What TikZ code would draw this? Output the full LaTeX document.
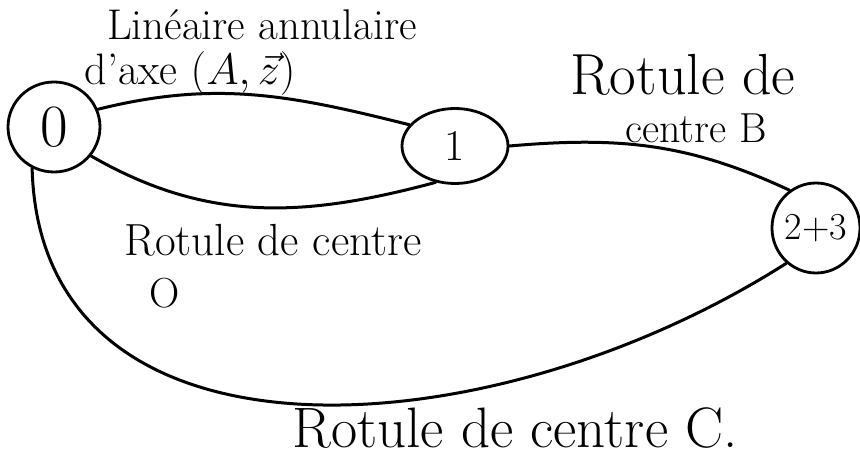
\RequirePackage{fix-cm}
\documentclass[tikz,border=0pt]{standalone}
\usepackage{fontspec}
\usetikzlibrary{shapes.geometric}
\begin{document}
\begin{tikzpicture}[x=1pt,y=-1pt,
  part/.style={draw, ellipse, line width=2.8pt, inner sep=0pt},
  link/.style={line width=3pt, line cap=round},
  lbl/.style={inner sep=0pt, anchor=center}]
\useasboundingbox (0,0) rectangle (860,465);
% parts
\node[part, minimum width=92pt, minimum height=90pt, font=\fontsize{60}{60}\selectfont] (n0) at (54,127) {0};
\node[part, minimum width=106pt, minimum height=75pt, font=\fontsize{44}{44}\selectfont] (n1) at (455,146) {1};
\node[part, minimum width=84pt, minimum height=90pt, font=\fontsize{38}{38}\selectfont] (n23) at (816,228) {2+3};
% links
\draw[link] (n0.22) to[out=14, in=166] (n1.155);
\draw[link] (n0.-38) to[out=-30, in=-165] (n1.-118);
\draw[link] (n1.east) to[out=5, in=155] (n23.125);
\draw[link] (n0.-118) .. controls (40,480) and (487,454) .. (n23.-130);
% labels
\node[lbl, font=\fontsize{43}{43}\selectfont] (t1) at (262,25) {Linéaire annulaire};
\node[lbl, font=\fontsize{44}{44}\selectfont] (t2) at (190,74) {d'axe $(A,\vec{z})$};
\node[lbl, font=\fontsize{58}{58}\selectfont] (t3) at (683,75) {Rotule de};
\node[lbl, font=\fontsize{42}{42}\selectfont] (t4) at (696,128) {centre B};
\node[lbl, font=\fontsize{45}{45}\selectfont] (t5) at (273,240) {Rotule de centre};
\node[lbl, font=\fontsize{42}{42}\selectfont] (t6) at (165,293) {O};
\node[lbl, font=\fontsize{57}{57}\selectfont] (t7) at (515,428) {Rotule de centre C.};
\end{tikzpicture}
\end{document}
